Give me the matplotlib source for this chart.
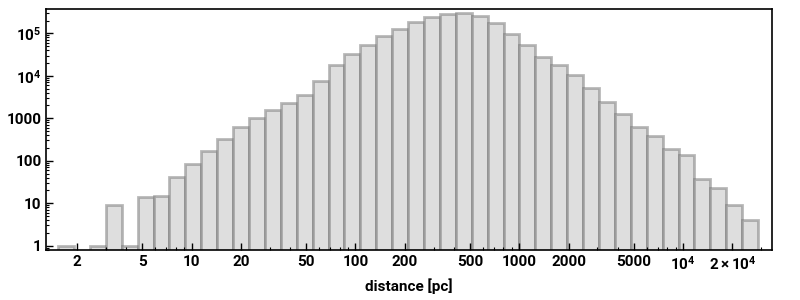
import numpy as np
from matplotlib import pyplot as plt
from matplotlib import ticker

# histogram of distances, 44 log-spaced bins (log10 pc)
log_lo = 0.185
log_hi = 4.458
counts = [1, 0, 1, 9, 1, 14, 15, 42, 85, 170, 330, 630, 1030, 1580,
          2300, 3600, 7600, 18200, 33000, 54000, 88000, 126000, 184000, 242000,
          285000, 301000, 260000, 175000, 96000, 53000, 27700, 17800, 10400, 5150,
          2450, 1260, 630, 390, 190, 139, 38, 23, 9, 4]

xticks = [2, 5, 10, 20, 50, 100, 200, 500, 1000, 2000, 5000, 1e4, 2e4]
xticklabels = ['2', '5', '10', '20', '50', '100', '200', '500', '1000', '2000', '5000',
               r'$10^4$', r'$2\times10^4$']
yticks = [1, 10, 100, 1000, 1e4, 1e5]
yticklabels = ['1', '10', '100', '1000', r'$10^4$', r'$10^5$']

plt.rcParams['font.family'] = ['Roboto', 'DejaVu Sans']
plt.rcParams['font.weight'] = 'bold'
plt.rcParams['mathtext.fontset'] = 'custom'
plt.rcParams['mathtext.rm'] = 'Roboto:bold'
plt.rcParams['mathtext.it'] = 'Roboto:bold'
plt.rcParams['mathtext.bf'] = 'Roboto:bold'
plt.rcParams['mathtext.default'] = 'rm'

edges = 10 ** np.linspace(log_lo, log_hi, len(counts) + 1)
counts = np.array(counts, dtype=float)
keep = counts > 0

fig = plt.figure(figsize=(8, 3), dpi=100)
ax = fig.add_axes([0.058, 0.1667, 0.907, 0.802])
ax.set_xscale('log')
ax.set_yscale('log')

ax.bar(edges[:-1][keep], counts[keep], width=np.diff(edges)[keep], log=True,
       align='edge', facecolor='#dedede', edgecolor=(0.45, 0.45, 0.45, 0.5),
       linewidth=2)

ax.set_xlim(1.30, 34900)
ax.set_ylim(0.79, 3.67e5)

ax.xaxis.set_major_locator(ticker.FixedLocator(xticks))
ax.xaxis.set_major_formatter(ticker.FixedFormatter(xticklabels))
ax.xaxis.set_minor_locator(ticker.LogLocator(base=10, subs=np.arange(2, 10)))
ax.xaxis.set_minor_formatter(ticker.NullFormatter())
ax.yaxis.set_major_locator(ticker.FixedLocator(yticks))
ax.yaxis.set_major_formatter(ticker.FixedFormatter(yticklabels))
ax.yaxis.set_minor_locator(ticker.LogLocator(base=10, subs=np.arange(2, 10)))
ax.yaxis.set_minor_formatter(ticker.NullFormatter())

ax.tick_params(which='both', direction='in', top=False, right=False, labelsize=11)
ax.tick_params(which='major', length=5, width=1)
ax.tick_params(which='minor', length=2.5, width=0.8)
for s in ax.spines.values():
    s.set_linewidth(1.2)

ax.set_xlabel('distance [pc]', fontsize=11, fontweight='bold')

fig.savefig('out.png', dpi=100)
